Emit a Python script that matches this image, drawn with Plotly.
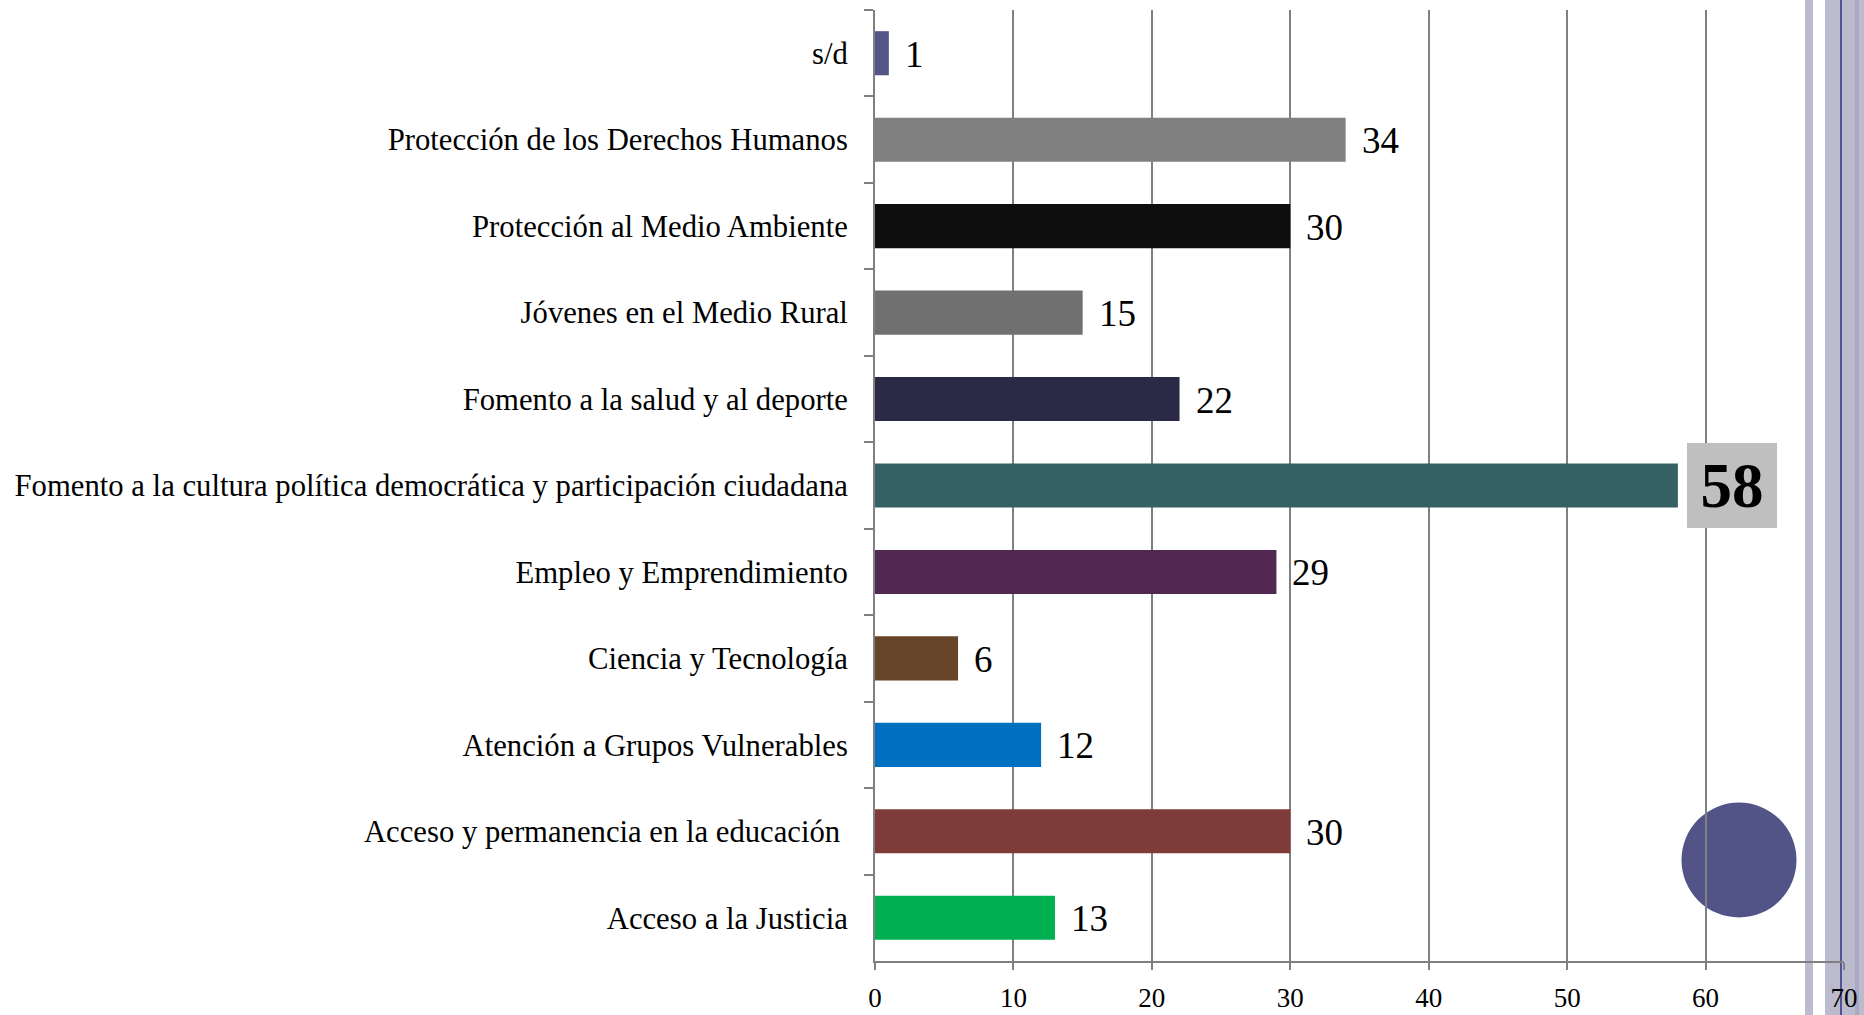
import plotly.graph_objects as go

# ---- data (top to bottom as shown) ----
categories = [
    "s/d",
    "Protección de los Derechos Humanos",
    "Protección al Medio Ambiente",
    "Jóvenes en el Medio Rural",
    "Fomento a la salud y al deporte",
    "Fomento a la cultura política democrática y participación ciudadana",
    "Empleo y Emprendimiento",
    "Ciencia y Tecnología",
    "Atención a Grupos Vulnerables",
    "Acceso y permanencia en la educación\u00a0",
    "Acceso a la Justicia",
]
values = [1, 34, 30, 15, 22, 58, 29, 6, 12, 30, 13]
bar_colors = ["#535589", "#808080", "#0E0E0E", "#707070", "#2A2A46", "#356165",
              "#502852", "#66452B", "#0070C0", "#7F3B39", "#00AF50"]
x_ticks = [0, 10, 20, 30, 40, 50, 60, 70]

W, H = 1864, 1015
ML, MR, MT, MB = 875, 20, 10, 54
PW, PH = W - ML - MR, H - MT - MB

def px_x(px):
    return (px - ML) / PW

def px_y(py):
    return 1 - (py - MT) / PH

FONT = "Liberation Serif"
GRID = "#808080"

fig = go.Figure()
fig.add_trace(go.Bar(
    x=values, y=categories, orientation="h",
    marker=dict(color=bar_colors, line=dict(width=0)),
    hoverinfo="x+y",
))

hi = values.index(max(values))
annotations = []
for i, (c, v) in enumerate(zip(categories, values)):
    if i == hi:
        annotations.append(dict(
            x=v, y=c, xref="x", yref="y", text="<b>%d</b>" % v,
            xanchor="left", yanchor="middle", xshift=9, showarrow=False,
            font=dict(family=FONT, size=63, color="#000000"),
            bgcolor="#BFBFBF", width=90, height=85, borderpad=0, borderwidth=0,
            align="center", valign="middle",
        ))
    else:
        annotations.append(dict(
            x=v, y=c, xref="x", yref="y", text=str(v),
            xanchor="left", yanchor="middle", xshift=14, yshift=-1, showarrow=False,
            font=dict(family=FONT, size=37, color="#000000"),
        ))

shapes = [
    # decorative template stripes on the right
    dict(type="rect", xref="paper", yref="paper", layer="below",
         x0=px_x(1805), x1=px_x(1813), y0=-0.2, y1=1.2,
         fillcolor="#BBBBCD", line=dict(width=0)),
    dict(type="rect", xref="paper", yref="paper", layer="below",
         x0=px_x(1825), x1=px_x(1864), y0=-0.2, y1=1.2,
         fillcolor="#BBBBCD", line=dict(width=0)),
    dict(type="rect", xref="paper", yref="paper", layer="below",
         x0=px_x(1855), x1=px_x(1859), y0=-0.2, y1=1.2,
         fillcolor="#A9A9C3", line=dict(width=0)),
    dict(type="rect", xref="paper", yref="paper", layer="below",
         x0=px_x(1840), x1=px_x(1842), y0=-0.2, y1=1.2,
         fillcolor="#50548F", line=dict(width=0)),
    # decorative circle
    dict(type="circle", xref="paper", yref="paper", layer="below",
         x0=px_x(1739 - 57.5), x1=px_x(1739 + 57.5),
         y0=px_y(860 + 57.5), y1=px_y(860 - 57.5),
         fillcolor="#525488", line=dict(width=0)),
]

fig.update_layout(
    width=W, height=H,
    margin=dict(l=ML, r=MR, t=MT, b=MB, pad=0, autoexpand=False),
    paper_bgcolor="#FFFFFF",
    plot_bgcolor="rgba(0,0,0,0)",
    showlegend=False,
    bargap=0.49,
    font=dict(family=FONT, color="#000000"),
    annotations=annotations,
    shapes=shapes,
    xaxis=dict(
        range=[0, 70], tickmode="array", tickvals=x_ticks,
        showgrid=True, gridcolor=GRID, gridwidth=2,
        zeroline=False, showline=True, linecolor=GRID, linewidth=2,
        ticks="outside", ticklen=7, tickwidth=2, tickcolor=GRID,
        tickfont=dict(family=FONT, size=27, color="#000000"),
        ticklabelstandoff=5, automargin=False,
        fixedrange=True,
    ),
    yaxis=dict(
        categoryorder="array", categoryarray=categories,
        autorange="reversed",
        showgrid=False, zeroline=False,
        showline=True, linecolor=GRID, linewidth=2,
        ticks="outside", tickson="boundaries", ticklen=9, tickwidth=2, tickcolor=GRID,
        tickfont=dict(family=FONT, size=30.7, color="#000000"),
        ticklabelstandoff=19, automargin=False,
        fixedrange=True,
    ),
)

fig.write_html(
    "out.html",
    config={"displayModeBar": False},
    post_script="document.body.style.margin='0';document.body.style.overflow='hidden';",
)
